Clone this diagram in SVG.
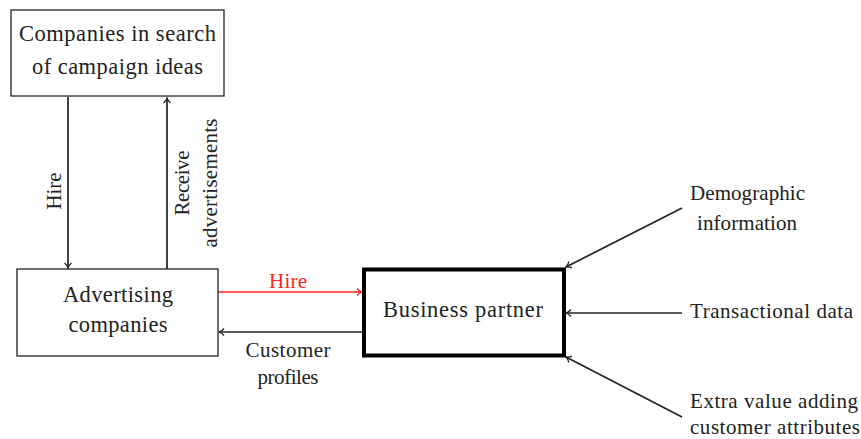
<svg xmlns="http://www.w3.org/2000/svg" width="861" height="439" viewBox="0 0 861 439">
<defs>
<style>
text{font-family:"Liberation Serif","DejaVu Serif",serif;font-size:21px;fill:#222}
.big{font-size:22.5px}
.box{fill:#fff;stroke:#222;stroke-width:1.3}
.thick{fill:#fff;stroke:#000;stroke-width:4}
.c{fill:none;stroke:#222;stroke-width:1.7}
.red{stroke:#f22}
.mid{text-anchor:middle}
</style>
<marker id="ah" markerWidth="10" markerHeight="10" refX="8" refY="5" orient="auto" markerUnits="userSpaceOnUse">
<path d="M3,1.5 Q5,4 8,5 Q5,6 3,8.5" fill="none" stroke="#222" stroke-width="1.3"/>
</marker>
<marker id="ahr" markerWidth="10" markerHeight="10" refX="8" refY="5" orient="auto" markerUnits="userSpaceOnUse">
<path d="M3,1.5 Q5,4 8,5 Q5,6 3,8.5" fill="none" stroke="#f22" stroke-width="1.3"/>
</marker>
</defs>
<rect width="861" height="439" fill="#fff"/>
<g id="connectors">
<line class="c" x1="68" y1="97" x2="68" y2="268" marker-end="url(#ah)"/>
<line class="c" x1="167" y1="269" x2="167" y2="98" marker-end="url(#ah)"/>
<line class="c red" x1="218" y1="292" x2="362" y2="292" marker-end="url(#ahr)"/>
<line class="c" x1="363" y1="332" x2="219" y2="332" marker-end="url(#ah)"/>
<line class="c" x1="682" y1="208" x2="566" y2="267" marker-end="url(#ah)"/>
<line class="c" x1="682" y1="313" x2="566" y2="313" marker-end="url(#ah)"/>
<line class="c" x1="682" y1="417" x2="566" y2="357" marker-end="url(#ah)"/>
<text transform="translate(61,191) rotate(-90)" class="mid" textLength="37">Hire</text>
<text transform="translate(189,183) rotate(-90)" class="mid" textLength="65">Receive</text>
<text transform="translate(217,183) rotate(-90)" class="mid" textLength="129">advertisements</text>
<text x="288" y="288" class="mid" style="fill:#f22" textLength="38">Hire</text>
<text x="288" y="357" class="mid" textLength="85">Customer</text>
<text x="288" y="384" class="mid" textLength="61">profiles</text>
</g>
<g id="companies">
<rect class="box" x="11" y="10" width="213" height="86"/>
<text x="117.5" y="41" class="mid big" textLength="197">Companies in search</text>
<text x="117.5" y="74" class="mid big" textLength="171">of campaign ideas</text>
</g>
<g id="advertising">
<rect class="box" x="17" y="269" width="201" height="87"/>
<text x="118" y="302" class="mid big" textLength="110">Advertising</text>
<text x="118" y="332" class="mid big" textLength="99">companies</text>
</g>
<g id="business">
<rect class="thick" x="364" y="269.5" width="200" height="86"/>
<text x="463" y="317" class="mid big" textLength="160">Business partner</text>
</g>
<g id="demographic">
<text x="747.5" y="200" class="mid" textLength="115">Demographic</text>
<text x="747" y="230" class="mid" textLength="100">information</text>
</g>
<g id="transactional">
<text x="690" y="318" textLength="163">Transactional data</text>
</g>
<g id="extra">
<text x="774" y="408" class="mid" textLength="168">Extra value adding</text>
<text x="775" y="434" class="mid" textLength="170">customer attributes</text>
</g>
</svg>
